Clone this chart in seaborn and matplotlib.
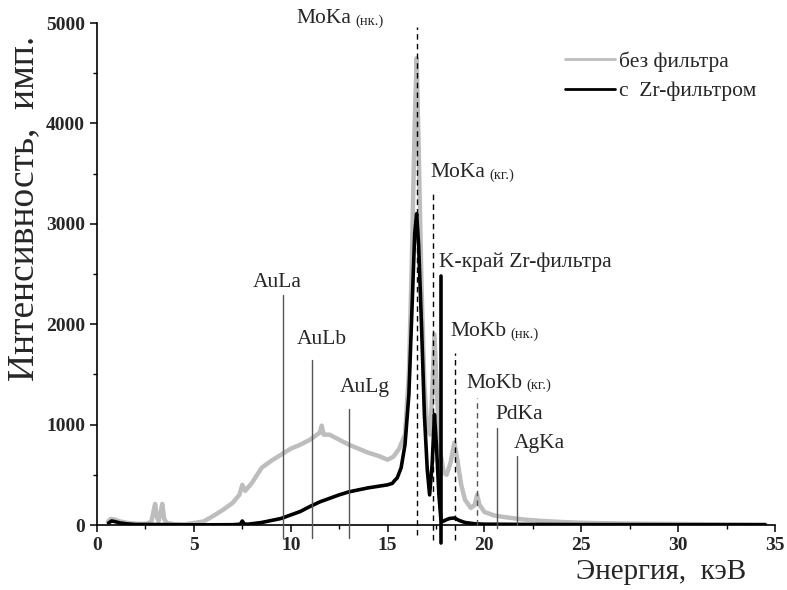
import numpy as np
import pandas as pd
import matplotlib
matplotlib.use("Agg")
import matplotlib.pyplot as plt
import seaborn as sns
from matplotlib.ticker import MultipleLocator

# ---- spectrum without filter (grey) ----
energy_nofilter = [0.55, 0.7, 0.9, 1.2, 1.6, 2.0, 2.5, 2.8, 2.9, 3.0, 3.1, 3.18, 3.28, 3.37, 3.47,
                   3.6, 4.0, 4.5, 5.0, 5.5, 6.0, 6.5, 7.0, 7.35, 7.5, 7.65, 8.0, 8.5, 9.0, 9.5,
                   10.0, 10.5, 11.0, 11.5, 11.6, 11.7, 12.0, 12.5, 13.0, 13.5, 14.0, 14.5, 15.0,
                   15.3, 15.6, 15.9, 16.1, 16.25, 16.4, 16.5, 16.6, 16.75, 16.9, 17.05, 17.2,
                   17.3, 17.42, 17.55, 17.7, 17.9, 18.05, 18.25, 18.45, 18.6, 18.8, 19.0, 19.3,
                   19.5, 19.62, 19.75, 20.0, 20.5, 21.0, 22.0, 23.0, 24.0, 25.0, 26.0, 28.0,
                   30.0, 32.0, 34.5]
counts_nofilter = [30, 60, 55, 35, 20, 12, 10, 30, 120, 210, 70, 40, 120, 210, 60,
                   20, 8, 5, 20, 35, 90, 150, 220, 300, 400, 340, 420, 570, 640, 700,
                   760, 800, 850, 920, 990, 900, 900, 850, 800, 760, 720, 690, 650,
                   680, 760, 900, 1500, 2600, 4000, 4650, 3800, 2400, 1400, 950, 900,
                   1300, 1900, 1300, 750, 520, 500, 620, 820, 650, 400, 250, 170,
                   200, 300, 200, 130, 95, 80, 55, 40, 30, 22, 18, 13,
                   10, 7, 5]

# ---- spectrum with Zr filter (black) ----
energy_zr = [0.6, 0.75, 0.9, 1.2, 1.6, 2.0, 3.0, 4.0, 5.0, 6.0, 7.0, 7.4, 7.5, 7.6, 7.8, 8.5,
             9.0, 9.5, 10.0, 10.5, 11.0, 11.5, 12.0, 12.5, 13.0, 13.5, 14.0, 14.5, 15.0, 15.25,
             15.35, 15.5, 15.7, 15.9, 16.1, 16.25, 16.4, 16.5, 16.6, 16.75, 16.9, 17.05, 17.17,
             17.3, 17.42, 17.52, 17.65, 17.75, 17.85, 18.0, 18.2, 18.45, 18.7, 19.0, 19.5, 20.0,
             22.0, 25.0, 30.0, 34.5]
counts_zr = [20, 40, 35, 20, 10, 5, 5, 3, 2, 2, 3, 8, 40, 10, 8, 25,
             45, 65, 100, 135, 185, 230, 265, 300, 330, 350, 370, 385, 400, 415,
             440, 470, 570, 800, 1300, 2100, 2900, 3100, 2800, 2000, 1100, 550, 300,
             600, 1100, 800, 300, 60, 35, 50, 65, 70, 45, 25, 12, 8,
             6, 4, 3, 2]

series_labels = ["без фильтра", "с  Zr-фильтром"]

# ---- characteristic lines ----
line_names = ["AuLa", "AuLb", "AuLg", "MoKa", "MoKa", "K-край Zr-фильтра",
              "MoKb", "MoKb", "PdKa", "AgKa"]
line_subs = ["", "", "", "(нк.)", "(кг.)", "", "(нк.)", "(кг.)", "", ""]
line_energy = [9.6, 11.1, 13.0, 16.5, 17.35, 17.78, 18.49, 19.64, 20.67, 21.7]
line_top = [2290, 1643, 1152, 4960, 3320, 2480, 1716, 1262, 963, 690]
line_bottom = [-130, -130, -130, -100, -150, -180, -150, 0, -30, 0]
label_x = [8.05, 10.33, 12.55, 10.27, 17.19, 17.67, 18.22, 19.05, 20.55, 21.53]
label_y = [2420, 1843, 1374, 5040, 3506, 2620, 1925, 1411, 1096, 814]
line_kind = ["solid", "solid", "solid", "dash", "dash", "edge", "dash", "dashgrey", "solid", "solid"]

sns.set_style("ticks")
plt.rcParams['font.family'] = ['Liberation Serif', 'DejaVu Serif']

fig = plt.figure(figsize=(7.87, 5.90), dpi=100)
ax = fig.add_axes([97/787, 65/590, 678/787, 502/590])

df_nf = pd.DataFrame({"E": energy_nofilter, "I": counts_nofilter})
df_zr = pd.DataFrame({"E": energy_zr, "I": counts_zr})
sns.lineplot(data=df_nf, x="E", y="I", ax=ax, color="#bdbdbd", lw=3.2,
             label=series_labels[0], zorder=2)
sns.lineplot(data=df_zr, x="E", y="I", ax=ax, color="black", lw=2.6,
             label=series_labels[1], zorder=3)

styles = {
    "solid": dict(color="#555555", lw=1.0, ls="-"),
    "dash": dict(color="black", lw=1.0, ls=(0, (4, 3))),
    "dashgrey": dict(color="#555555", lw=1.0, ls=(0, (4, 3))),
    "edge": dict(color="black", lw=2.6, ls="-"),
}
for name, sub, e, top, bot, lx, ly, kind in zip(line_names, line_subs, line_energy, line_top,
                                                  line_bottom, label_x, label_y, line_kind):
    ax.plot([e, e], [bot, top], clip_on=False, zorder=4, **styles[kind])
    t = ax.text(lx, ly, name, fontsize=15.5, ha="left", va="center", zorder=5)
    if sub:
        ax.annotate(sub, xy=(1, 0.1), xycoords=t, xytext=(3, -1), textcoords="offset points",
                    fontsize=10.5, ha="left", va="bottom")

ax.set_xlim(0, 35)
ax.set_ylim(0, 5000)
ax.xaxis.set_major_locator(MultipleLocator(5))
ax.xaxis.set_minor_locator(MultipleLocator(2.5))
ax.yaxis.set_major_locator(MultipleLocator(1000))
ax.yaxis.set_minor_locator(MultipleLocator(500))
ax.tick_params(which="major", direction="out", length=5, width=1.1, labelsize=14, color="black")
ax.tick_params(which="minor", direction="out", length=3, width=1.0, color="black")
for lab in ax.get_xticklabels() + ax.get_yticklabels():
    lab.set_fontweight("bold")
sns.despine(ax=ax)
for s in ["left", "bottom"]:
    ax.spines[s].set_linewidth(1.2)
    ax.spines[s].set_color("black")

ax.set_xlabel("Энергия,  кэВ", fontsize=21, ha="right")
ax.xaxis.set_label_coords((746 - 97) / 678, -0.068)
ax.set_ylabel("Интенсивность,  имп.", fontsize=27, ha="center", va="bottom")
ax.yaxis.set_label_coords(-0.083, 0.63)

leg = ax.legend(loc="upper left", bbox_to_anchor=((565 - 97) / 678, 0.944), frameon=False,
                fontsize=15.5, handlelength=2.3, handletextpad=0.2, borderpad=0,
                borderaxespad=0, labelspacing=0.45)
for h in leg.get_lines():
    h.set_linewidth(2.0)

fig.savefig("out.png", dpi=100)
